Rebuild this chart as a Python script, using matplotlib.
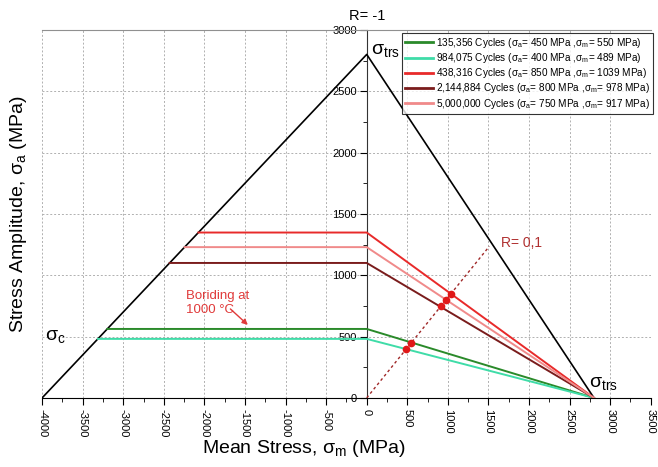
import matplotlib
matplotlib.use("Agg")
import matplotlib.pyplot as plt
from matplotlib.ticker import MultipleLocator

plt.rcParams['font.family'] = ['Liberation Sans', 'DejaVu Sans']
plt.rcParams['mathtext.fontset'] = 'custom'
plt.rcParams['mathtext.rm'] = 'Liberation Sans'
plt.rcParams['mathtext.it'] = 'Liberation Sans'
plt.rcParams['axes.unicode_minus'] = False

# Failure envelope (Haigh diagram)
sigma_c = -4000       # compressive strength (left vertex)
sigma_trs = 2800      # transverse rupture strength (apex and right vertex)

# Series: fatigue limit lines
labels = [
    "135,356 Cycles (σ$_a$= 450 MPa ,σ$_m$= 550 MPa)",
    "984,075 Cycles (σ$_a$= 400 MPa ,σ$_m$= 489 MPa)",
    "438,316 Cycles (σ$_a$= 850 MPa ,σ$_m$= 1039 MPa)",
    "2,144,884 Cycles (σ$_a$= 800 MPa ,σ$_m$= 978 MPa)",
    "5,000,000 Cycles (σ$_a$= 750 MPa ,σ$_m$= 917 MPa)",
]
colors = ["#2a8a2a", "#3fdca8", "#e82a2a", "#7a1c1c", "#f08a8a"]
levels = [562, 481, 1348, 1100, 1229]       # sigma_a at sigma_m = 0
sigma_a_pts = [450, 400, 850, 800, 750]
sigma_m_pts = [550, 489, 1039, 978, 917]

# R = 0.1 load line end
r_line_x = [0, 1510]
r_line_y = [0, 1235]

fig = plt.figure(figsize=(6.58, 4.67), dpi=100)
ax = fig.add_axes([0.064, 0.148, 0.925, 0.788])
ax.set_xlim(-4000, 3500)
ax.set_ylim(0, 3000)

# grid
ax.grid(True, which='major', linestyle=(0, (2, 2)), color='#b0b0b0', linewidth=0.7)
ax.set_axisbelow(True)

# envelope
ax.plot([sigma_c, 0, sigma_trs], [0, sigma_trs, 0], color='black', lw=1.2, zorder=3)

handles = []
for i in range(len(levels)):
    lvl = levels[i]
    xstart = lvl / sigma_trs * (-sigma_c) + sigma_c
    h, = ax.plot([xstart, 0, sigma_trs], [lvl, lvl, 0], color=colors[i], lw=1.4,
                 label=labels[i], zorder=4)
    handles.append(h)

# R = 0.1 line
ax.plot(r_line_x, r_line_y, color='#a02828', lw=1.0, linestyle=(0, (2, 2)), zorder=5)
ax.plot(sigma_m_pts, sigma_a_pts, 'o', color='#e01818', markersize=4.5, zorder=6)
ax.text(1650, 1260, "R= 0,1", color='#b03030', fontsize=10, va='center', ha='left')

# annotations
ax.text(0, 3060, "R= -1", ha='center', va='bottom', fontsize=10.5)
ax.text(50, 2835, "σ$_\\mathrm{trs}$", fontsize=14, ha='left', va='center')
ax.text(2745, 120, "σ$_\\mathrm{trs}$", fontsize=14, ha='left', va='center')
ax.text(-3960, 500, "σ$_\\mathrm{c}$", fontsize=14, ha='left', va='center')
ax.text(-2230, 775, "Boriding at\n1000 °C", color='#e03a3a', fontsize=9.5,
        ha='left', va='center', linespacing=1.2, zorder=7)
ax.annotate("", xy=(-1465, 595), xytext=(-1680, 725),
            arrowprops=dict(arrowstyle='-|>', color='#e03a3a', lw=1.0,
                            shrinkA=0, shrinkB=0, mutation_scale=8),
            zorder=7)

# spines
ax.spines['left'].set_position(('data', 0))
ax.spines['left'].set_color('#333333')
ax.spines['right'].set_visible(False)
ax.spines['top'].set_color('#909090')
ax.spines['bottom'].set_color('black')

ax.xaxis.set_major_locator(MultipleLocator(500))
ax.xaxis.set_minor_locator(MultipleLocator(250))
ax.yaxis.set_major_locator(MultipleLocator(500))
ax.yaxis.set_minor_locator(MultipleLocator(250))
ax.tick_params(axis='both', which='major', direction='out', length=5, labelsize=8)
ax.tick_params(axis='both', which='minor', direction='out', length=3)
ax.tick_params(axis='x', labelrotation=-90, top=False, pad=3)
ax.tick_params(axis='y', right=False, pad=2)
for t in ax.get_yticklabels():
    t.set_zorder(8)

ax.set_xlabel("Mean Stress, σ$_m$ (MPa)", fontsize=14)
ax.xaxis.set_label_coords(0.43, -0.11)
ax.set_ylabel("Stress Amplitude, σ$_a$ (MPa)", fontsize=14)
ax.yaxis.set_label_coords(-0.022, 0.5)

leg = ax.legend(handles=handles, loc='upper right', bbox_to_anchor=(1.004, 0.992),
                fontsize=7.2, frameon=True, fancybox=False, edgecolor='black',
                handlelength=2.8, handletextpad=0.3, borderpad=0.3, labelspacing=0.12,
                borderaxespad=0)
leg.get_frame().set_linewidth(0.8)
for lh in leg.get_lines():
    lh.set_linewidth(2.0)

fig.savefig("out.png", dpi=100)
